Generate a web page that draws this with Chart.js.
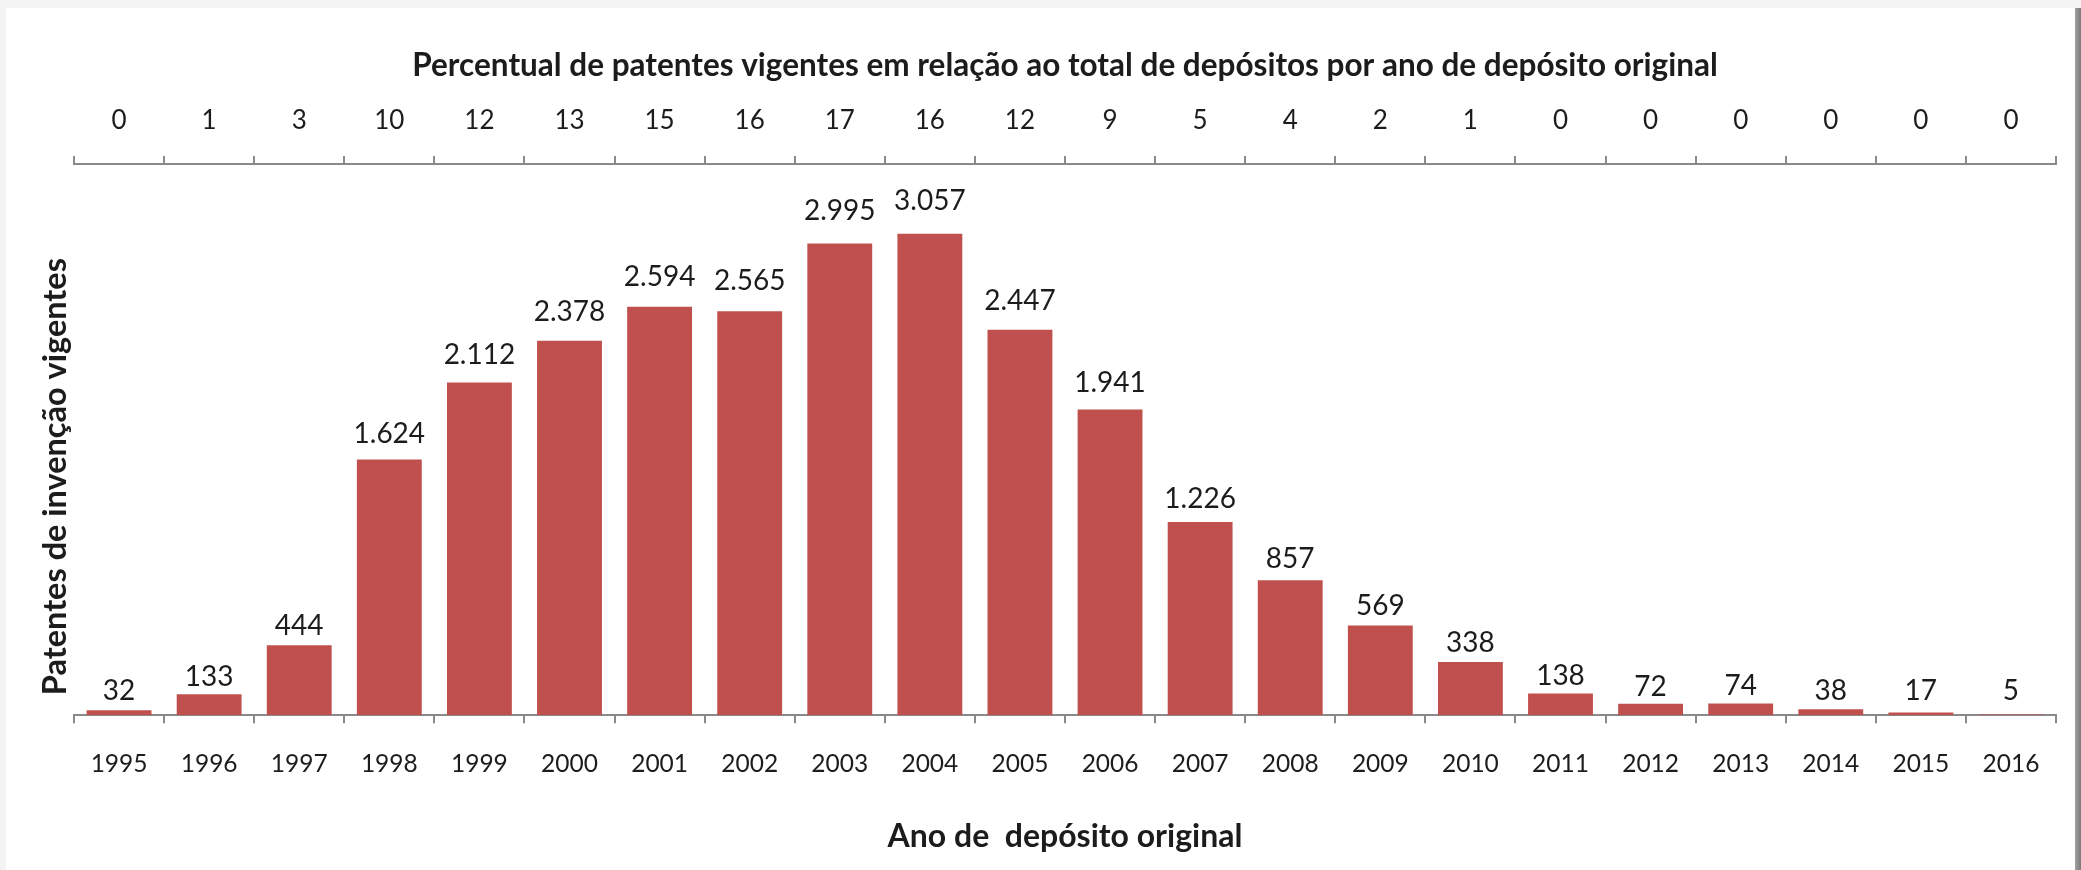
<!DOCTYPE html>
<html>
<head>
<meta charset="utf-8">
<script src="https://cdn.jsdelivr.net/npm/chart.js@4.4.1/dist/chart.umd.min.js"></script>
<style>
  html, body { margin: 0; padding: 0; background: #f3f3f3; overflow: hidden; }
  #frame { position: absolute; left: 6px; top: 8px; width: 2069px; height: 862px; background: #fff; }
  #edge { position: absolute; left: 2075px; top: 8px; width: 6px; height: 862px;
          background: linear-gradient(to right, #a0a0a0, #7a7a7a); }
  #myChart { position: absolute; left: 0; top: 0; }
</style>
</head>
<body>
<div id="frame"></div>
<div id="edge"></div>
<canvas id="myChart" width="2081" height="870"></canvas>
<script>
"use strict"

// anos de deposito original
const years = ['1995','1996','1997','1998','1999','2000','2001','2002','2003','2004','2005',
               '2006','2007','2008','2009','2010','2011','2012','2013','2014','2015','2016']
// patentes de invencao vigentes
const patents = [32,133,444,1624,2112,2378,2594,2565,2995,3057,2447,
                 1941,1226,857,569,338,138,72,74,38,17,5]
// percentual vigentes / total de depositos
const percents = ['0','1','3','10','12','13','15','16','17','16','12',
                  '9','5','4','2','1','0','0','0','0','0','0']

const BAR_RED = '#C0504D'
const AXIS_GREY = '#8a8a8a'
const TEXT = '#1c1c1c'
const Y_TITLE = 'Patentes de invenção vigentes'

function fmt_ptbr(v){
    return String(v).replace(/\B(?=(\d{3})+(?!\d))/g, '.')
}

// labels above the bars (like excel "outside end") + the y title
const barLabels = {
    id: 'barLabels',
    afterDatasetsDraw(chart){
        const ctx = chart.ctx
        const meta = chart.getDatasetMeta(0)
        const area = chart.chartArea
        ctx.save()
        ctx.font = '28px Lato'
        ctx.fillStyle = TEXT
        ctx.textAlign = 'center'
        ctx.textBaseline = 'middle'
        meta.data.forEach(function(bar, i){
            let h = bar.base - bar.y
            let y = Math.min(bar.y - (17 + 0.032 * h), area.bottom - 24)
            ctx.fillText(fmt_ptbr(patents[i]), bar.x, y)
        })
        // y title, rotated
        ctx.font = 'bold 32.5px Lato'
        ctx.translate(56, (area.top + area.bottom) / 2 + 37)
        ctx.rotate(-Math.PI / 2)
        ctx.fillText(Y_TITLE, 0, 0)
        ctx.restore()
    }
}

function draw_chart(){
    const ctx = document.getElementById('myChart')
    return new Chart(ctx, {
        type: 'bar',
        data: {
            labels: years,
            datasets: [{
                label: Y_TITLE,
                data: patents,
                backgroundColor: BAR_RED,
                borderWidth: 0,
                barPercentage: 0.72,
                categoryPercentage: 1.0,
                xAxisID: 'x',
                yAxisID: 'y'
            }]
        },
        options: {
            responsive: false,
            animation: false,
            events: [],
            layout: { padding: { left: 74, right: 25, top: 47, bottom: 14 } },
            plugins: {
                legend: { display: false },
                tooltip: { enabled: false }
            },
            scales: {
                x: {
                    position: 'bottom',
                    offset: true,
                    grid: { offset: true, drawOnChartArea: false, drawTicks: true, tickLength: 8,
                            color: AXIS_GREY, lineWidth: 2 },
                    border: { display: true, color: AXIS_GREY, width: 2 },
                    ticks: { color: TEXT, font: { family: 'Lato', size: 24.5 }, padding: 26, maxRotation: 0 },
                    title: { display: true, text: 'Ano de  depósito original', color: TEXT,
                             font: { family: 'Lato', size: 32, weight: 'bold' }, padding: { top: 13, bottom: 0 } }
                },
                x2: {
                    type: 'category',
                    position: 'top',
                    labels: percents,
                    offset: true,
                    grid: { offset: true, drawOnChartArea: false, drawTicks: true, tickLength: 8,
                            color: AXIS_GREY, lineWidth: 2 },
                    border: { display: true, color: AXIS_GREY, width: 2 },
                    ticks: { color: TEXT, font: { family: 'Lato', size: 26 }, padding: 20, maxRotation: 0 },
                    title: { display: true,
                             text: 'Percentual de patentes vigentes em relação ao total de depósitos por ano de depósito original',
                             color: TEXT, font: { family: 'Lato', size: 31.5, weight: 'bold' },
                             padding: { top: 0, bottom: 0 } }
                },
                y: {
                    display: false,
                    min: 0,
                    max: 3500
                }
            }
        },
        plugins: [barLabels]
    })
}

let patent_chart
Promise.all([
    document.fonts.load('24px Lato'),
    document.fonts.load('bold 28px Lato')
]).then(function(){
    patent_chart = draw_chart()
}, function(){
    patent_chart = draw_chart()
})
</script>
</body>
</html>
